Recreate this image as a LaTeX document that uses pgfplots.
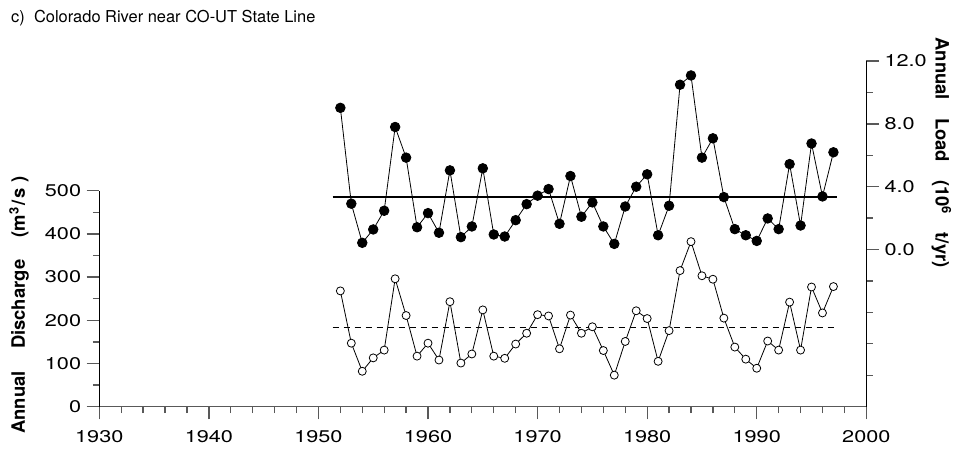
\documentclass[border=0pt]{standalone}
\usepackage{fontspec}
\setmainfont{TeX Gyre Heros}[FakeStretch=1.28]
\newfontfamily\labelfont{TeX Gyre Heros}
\usepackage{pgfplots}
\usepackage{pgfplotstable}
\pgfplotsset{compat=1.18}
\pgfplotstableread{
year load
1952 9.02
1953 2.92
1954 0.43
1955 1.28
1956 2.47
1957 7.80
1958 5.85
1959 1.42
1960 2.32
1961 1.07
1962 5.04
1963 0.79
1964 1.47
1965 5.17
1966 0.96
1967 0.83
1968 1.87
1969 2.89
1970 3.43
1971 3.85
1972 1.64
1973 4.68
1974 2.09
1975 3.00
1976 1.47
1977 0.36
1978 2.74
1979 4.00
1980 4.79
1981 0.91
1982 2.79
1983 10.49
1984 11.08
1985 5.85
1986 7.08
1987 3.34
1988 1.30
1989 0.91
1990 0.55
1991 1.98
1992 1.30
1993 5.44
1994 1.53
1995 6.75
1996 3.38
1997 6.19
}\loadtable
\pgfplotstableread{
year q
1952 268
1953 147
1954 82
1955 113
1956 131
1957 296
1958 211
1959 117
1960 147
1961 108
1962 243
1963 101
1964 122
1965 224
1966 117
1967 112
1968 145
1969 170
1970 213
1971 210
1972 134
1973 212
1974 170
1975 185
1976 130
1977 73
1978 151
1979 222
1980 204
1981 105
1982 176
1983 315
1984 382
1985 303
1986 295
1987 205
1988 138
1989 110
1990 89
1991 152
1992 131
1993 242
1994 131
1995 277
1996 217
1997 278
}\qtable
\pgfplotsset{
  common/.style={
    scale only axis, width=767bp, height=345.7bp, at={(0,0)}, anchor=south west,
    xmin=1930, xmax=2000, clip=false,
    tick align=outside,
    major tick length=12.7bp, minor tick length=6.5bp,
    every tick/.style={black!65, line width=1.3bp},
    /pgf/number format/assume math mode=true,
    tick label style={font=\fontsize{17}{20}\selectfont},
  }
}
\begin{document}
\begin{tikzpicture}
\useasboundingbox (-99.3bp,-44.3bp) rectangle (863.7bp,406.7bp);
\node[anchor=base west, inner sep=0, font=\labelfont\fontsize{16.5}{18}\selectfont] at (-88.3bp,384bp) {c)\ \ Colorado River near CO-UT State Line};
\begin{axis}[common,
  ymin=0, ymax=800,
  axis x line*=bottom, axis y line*=left,
  x axis line style={black!65, line width=1.3bp},
  y axis line style={draw=none},
  xtick={1930,1940,...,2000},
  minor xtick={1932,1934,...,1998},
  xticklabel style={/pgf/number format/1000 sep={}, yshift=-8bp},
  yticklabel style={xshift=-2bp},
  ytick={0,100,...,500},
  minor ytick={50,150,...,450},
]
\draw[black, line width=1.3bp] (axis cs:1930,0) -- (axis cs:1930,500);
\addplot[black, line width=1.5bp, dash pattern=on 6.5bp off 4.5bp] coordinates {(1951.3,183) (1997.3,183)};
\addplot[black, line width=0.8bp, mark=*, mark size=4bp, mark options={fill=white, draw=black, line width=0.8bp, solid}] table[x=year, y=q] {\qtable};
\node[rotate=90, font=\labelfont\bfseries\fontsize{18.5}{20}\selectfont] at (rel axis cs:-0.1047,0.295) {Annual\hspace{17bp} Discharge\hspace{17bp} (m\hspace{1bp}\textsuperscript{3}\hspace{1bp}/\hspace{2bp}s\hspace{6bp})};
\node[rotate=-90, font=\labelfont\bfseries\fontsize{18.5}{20}\selectfont] at (rel axis cs:1.098,0.735) {Annual\hspace{13bp} Load\hspace{13bp} (10\textsuperscript{6}\hspace{13bp} t/yr)};
\end{axis}
\begin{axis}[common,
  ymin=-10, ymax=12,
  hide x axis, axis y line*=right,
  y axis line style={black, line width=1.3bp},
  ytick={0,4,8,12},
  minor ytick={-8,-6,-4,-2,2,6,10},
  yticklabel style={xshift=2bp, /pgf/number format/fixed, /pgf/number format/fixed zerofill, /pgf/number format/precision=1},
]
\addplot[black, line width=1.5bp] coordinates {(1951.3,3.34) (1997.3,3.34)};
\addplot[black, line width=0.8bp, mark=*, mark size=4.8bp, mark options={fill=black}] table[x=year, y=load] {\loadtable};
\end{axis}
\end{tikzpicture}
\end{document}
